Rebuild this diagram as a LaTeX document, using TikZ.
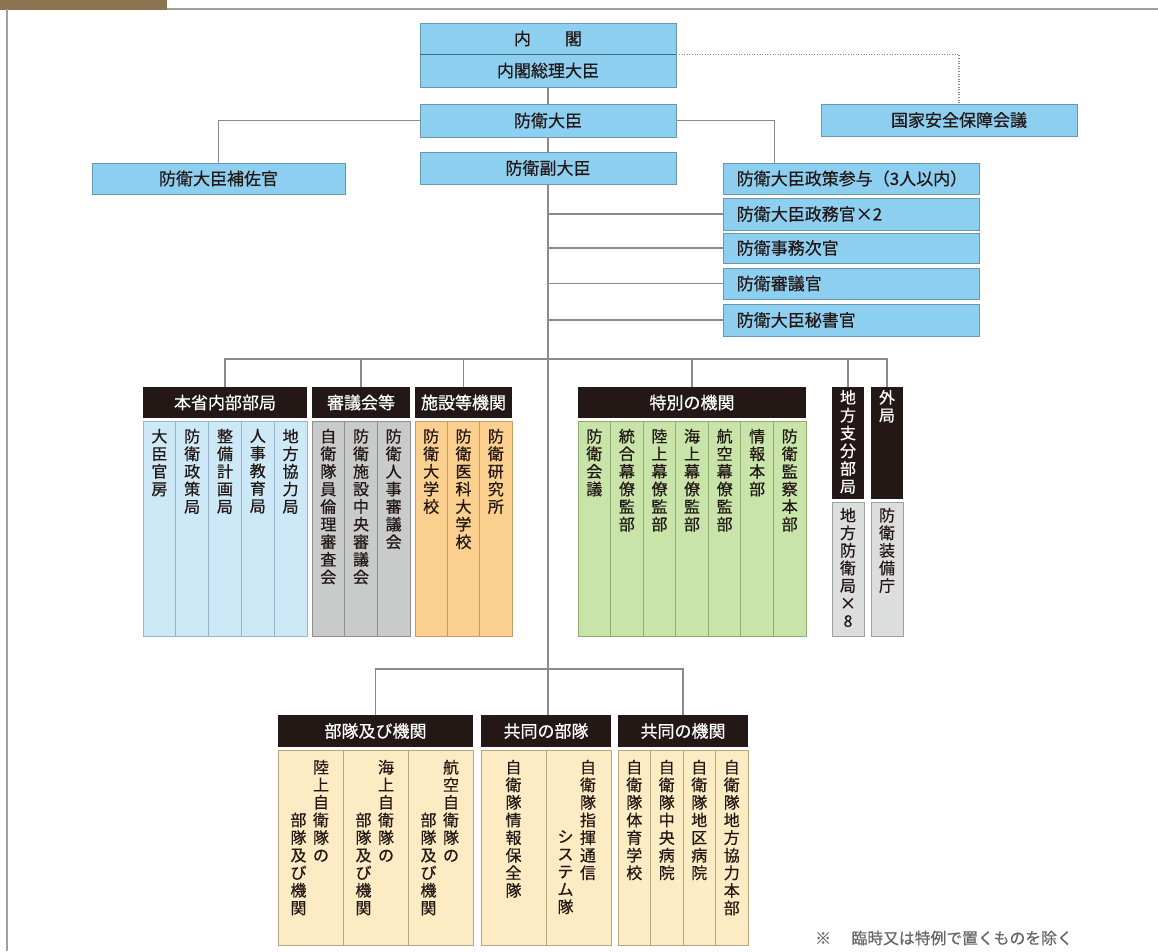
\documentclass[tikz,border=0pt]{standalone}
\usepackage{fontspec}
\setmainfont{Noto Sans CJK JP}[FakeBold=0.6]
\usetikzlibrary{calc}
\definecolor{topfill}{HTML}{8DCFF0}
\definecolor{topbd}{HTML}{6A97AE}
\definecolor{topdiv}{HTML}{3F6C82}
\definecolor{hdrfill}{HTML}{231815}
\definecolor{txt}{HTML}{231815}
\definecolor{cAf}{HTML}{CDE8F6}
\definecolor{cAd}{HTML}{94B6C8}
\definecolor{cBf}{HTML}{C9CACA}
\definecolor{cBd}{HTML}{8F8F8F}
\definecolor{cCf}{HTML}{FBD08F}
\definecolor{cCd}{HTML}{C49C62}
\definecolor{cDf}{HTML}{C8E4A9}
\definecolor{cDd}{HTML}{8FAB74}
\definecolor{cEf}{HTML}{DCDDDD}
\definecolor{cEd}{HTML}{A0A0A0}
\definecolor{cGf}{HTML}{FDEBC3}
\definecolor{cGd}{HTML}{B9A57E}
\definecolor{lncol}{HTML}{8A8A8A}
\definecolor{brownbar}{HTML}{8A7550}
\definecolor{bordercol}{HTML}{A0A0A0}
\definecolor{footc}{HTML}{666666}
\newcommand\mkbox[7]{%
  \pgfmathsetmacro\mbw{#5-#3}\pgfmathsetmacro\mbh{#6-#4}%
  \pgfmathsetmacro\mbx{(#3+#5)/2}\pgfmathsetmacro\mby{(#4+#6)/2}%
  \node[#2, minimum width=\mbw pt, minimum height=\mbh pt, inner sep=0pt] (#1) at (\mbx,\mby) {#7};}
\begin{document}
\begin{tikzpicture}[x=1pt,y=-1pt,
  topbox/.style={draw=topbd, fill=topfill, line width=0.9pt, text=txt, font=\fontsize{17}{20}\selectfont},
  hdr/.style={fill=hdrfill, text=white, font=\fontsize{17}{20}\selectfont},
  colA/.style={fill=cAf, draw=cAd, line width=0.8pt},
  colB/.style={fill=cBf, draw=cBd, line width=0.8pt},
  colC/.style={fill=cCf, draw=cCd, line width=0.8pt},
  colD/.style={fill=cDf, draw=cDd, line width=0.8pt},
  colE/.style={fill=cEf, draw=cEd, line width=0.8pt},
  colG/.style={fill=cGf, draw=cGd, line width=0.8pt},
  vt/.style={anchor=north, inner sep=0pt, align=center, text=txt, font=\fontsize{16}{17.6}\selectfont},
  vth/.style={vt, text=white, font=\fontsize{16}{17.8}\selectfont},
  lbl/.style={inner sep=0pt, anchor=west, text=txt, font=\fontsize{17}{20}\selectfont},
  conn/.style={draw=lncol, line width=1.2pt}]
\fill[white] (0,0) rectangle (1158,951);
\useasboundingbox (0,0) rectangle (1158,951);
% frame
\fill[brownbar] (0,0) rectangle (167,10);
\draw[bordercol, line width=2.4pt] (167,9) -- (1158,9);
\draw[bordercol, line width=2.4pt] (7,9) -- (7,951);

% top boxes
\mkbox{naikaku}{topbox}{420}{23}{676}{54}{内\hspace{2em}閣}
\mkbox{souri}{topbox}{420}{54}{676}{87}{内閣総理大臣}
\draw[topdiv, line width=1.6pt] (naikaku.south west) -- (naikaku.south east);
\mkbox{daijin}{topbox}{420}{104}{676}{137}{防衛大臣}
\mkbox{fuku}{topbox}{420}{152}{676}{184}{防衛副大臣}
\mkbox{kokka}{topbox}{821}{104}{1077}{136}{\hspace{20pt}国家安全保障会議}
\mkbox{hosakan}{topbox}{92}{163}{345}{194}{防衛大臣補佐官}
\mkbox{sanyo}{topbox}{723}{163}{979}{194}{}
\mkbox{seimu}{topbox}{723}{198}{979}{230}{}
\mkbox{jimu}{topbox}{723}{233}{979}{263}{}
\mkbox{shingi}{topbox}{723}{268}{979}{299}{}
\mkbox{hisho}{topbox}{723}{304}{979}{336}{}
\node[lbl] (tsanyo) at ($(sanyo.west)+(14,0)$) {防衛大臣政策参与（3人以内）};
\node[lbl] (tseimu) at ($(seimu.west)+(14,0)$) {防衛大臣政務官×2};
\node[lbl] (tjimu) at ($(jimu.west)+(14,0)$) {防衛事務次官};
\node[lbl] (tshingi) at ($(shingi.west)+(14,0)$) {防衛審議官};
\node[lbl] (thisho) at ($(hisho.west)+(14,0)$) {防衛大臣秘書官};

% headers
\mkbox{hA}{hdr}{143}{387}{307}{418}{本省内部部局}
\mkbox{hB}{hdr}{312}{387}{410}{418}{審議会等}
\mkbox{hC}{hdr}{415}{387}{512}{418}{施設等機関}
\mkbox{hD}{hdr}{578}{387}{806}{418}{特別の機関}
\mkbox{hE}{hdr}{832}{387}{864}{499}{}
\mkbox{hF}{hdr}{871}{387}{903}{499}{}
\node[vth] (thE) at ($(hE.north)+(0,3)$) {地\\方\\支\\分\\部\\局};
\node[vth] (thF) at ($(hF.north)+(0,3)$) {外\\局};
\mkbox{hG}{hdr}{278}{715}{473}{747}{部隊及び機関}
\mkbox{hH}{hdr}{481}{715}{611}{747}{共同の部隊}
\mkbox{hI}{hdr}{618}{715}{748}{747}{共同の機関}

% columns A
\foreach \t [count=\i from 0] in {{大\\臣\\官\\房},{防\\衛\\政\\策\\局},{整\\備\\計\\画\\局},{人\\事\\教\\育\\局},{地\\方\\協\\力\\局}}{
  \pgfmathsetmacro\xa{143+\i*32.8}\pgfmathsetmacro\xb{\xa+32.8}
  \mkbox{A\i}{colA}{\xa}{421}{\xb}{636}{}
  \node[vt] (tA\i) at ($(A\i.north)+(0,8)$) {\t};
}
% columns B
\foreach \t [count=\i from 0] in {{自\\衛\\隊\\員\\倫\\理\\審\\査\\会},{防\\衛\\施\\設\\中\\央\\審\\議\\会},{防\\衛\\人\\事\\審\\議\\会}}{
  \pgfmathsetmacro\xa{312+\i*32.667}\pgfmathsetmacro\xb{\xa+32.667}
  \mkbox{B\i}{colB}{\xa}{421}{\xb}{636}{}
  \node[vt] (tB\i) at ($(B\i.north)+(0,8)$) {\t};
}
% columns C
\foreach \t [count=\i from 0] in {{防\\衛\\大\\学\\校},{防\\衛\\医\\科\\大\\学\\校},{防\\衛\\研\\究\\所}}{
  \pgfmathsetmacro\xa{415+\i*32.333}\pgfmathsetmacro\xb{\xa+32.333}
  \mkbox{C\i}{colC}{\xa}{421}{\xb}{636}{}
  \node[vt] (tC\i) at ($(C\i.north)+(0,8)$) {\t};
}
% columns D
\foreach \t [count=\i from 0] in {{防\\衛\\会\\議},{統\\合\\幕\\僚\\監\\部},{陸\\上\\幕\\僚\\監\\部},{海\\上\\幕\\僚\\監\\部},{航\\空\\幕\\僚\\監\\部},{情\\報\\本\\部},{防\\衛\\監\\察\\本\\部}}{
  \pgfmathsetmacro\xa{578+\i*32.571}\pgfmathsetmacro\xb{\xa+32.571}
  \mkbox{D\i}{colD}{\xa}{421}{\xb}{636}{}
  \node[vt] (tD\i) at ($(D\i.north)+(0,8)$) {\t};
}
% E, F bodies
\mkbox{E0}{colE}{832}{502}{864}{636}{}
\mkbox{F0}{colE}{871}{502}{903}{636}{}
\node[vt] (tE0) at ($(E0.north)+(0,6)$) {地\\方\\防\\衛\\局\\×\\8};
\node[vt] (tF0) at ($(F0.north)+(0,6)$) {防\\衛\\装\\備\\庁};

% columns G
\foreach \r [count=\i from 0] in {{陸\\上\\自\\衛\\隊\\の},{海\\上\\自\\衛\\隊\\の},{航\\空\\自\\衛\\隊\\の}}{
  \pgfmathsetmacro\xa{278+\i*65}\pgfmathsetmacro\xb{\xa+65}
  \mkbox{G\i}{colG}{\xa}{750}{\xb}{945}{}
  \node[vt] (tG\i r) at ($(G\i.north)+(10.5,10)$) {\r};
  \node[vt] (tG\i l) at ($(G\i.north)+(-12,62.8)$) {部\\隊\\及\\び\\機\\関};
}
% columns H
\mkbox{H0}{colG}{481}{750}{546}{945}{}
\mkbox{H1}{colG}{546}{750}{611}{945}{}
\node[vt] (tH0) at ($(H0.north)+(0,10)$) {自\\衛\\隊\\情\\報\\保\\全\\隊};
\node[vt] (tH1r) at ($(H1.north)+(9.5,10)$) {自\\衛\\隊\\指\\揮\\通\\信};
\node[vt] (tH1l) at ($(H1.north)+(-13,80.4)$) {シ\\ス\\テ\\ム\\隊};
% columns I
\foreach \t [count=\i from 0] in {{自\\衛\\隊\\体\\育\\学\\校},{自\\衛\\隊\\中\\央\\病\\院},{自\\衛\\隊\\地\\区\\病\\院},{自\\衛\\隊\\地\\方\\協\\力\\本\\部}}{
  \pgfmathsetmacro\xa{618+\i*32.5}\pgfmathsetmacro\xb{\xa+32.5}
  \mkbox{I\i}{colG}{\xa}{750}{\xb}{945}{}
  \node[vt] (tI\i) at ($(I\i.north)+(0,10)$) {\t};
}

% connectors
\draw[conn] (souri.south) -- (daijin.north);
\draw[conn] (daijin.south) -- (fuku.north);
\draw[conn] (fuku.south) -- (fuku.south |- hH.north);
\draw[conn] (daijin.west) -| (hosakan.north);
\draw[conn] (daijin.east) -| ($(sanyo.north west)+(52,0)$);
\foreach \n in {seimu,jimu,shingi,hisho}{
  \draw[conn] (fuku.south |- \n.west) -- (\n.west);
}
\draw[lncol, line width=1.1pt, dash pattern=on 1pt off 1.6pt] (naikaku.south east) -| ($(kokka.north)+(10,0)$);
\coordinate (bar1) at (548,359);
\draw[conn] (hA.north) -- (hA.north |- bar1) -| (hF.north);
\foreach \n in {hB,hC,hD,hE}{
  \draw[conn] (\n.north) -- (\n.north |- bar1);
}
\coordinate (bar2) at (547,669);
\draw[conn] (hG.north) -- (hG.north |- bar2) -| (hI.north);

% footnote
\node[inner sep=0pt, anchor=west, text=footc, font=\fontsize{15.8}{18}\selectfont] (note) at (815,938) {※\hspace{1.3em}臨時又は特例で置くものを除く};
\end{tikzpicture}
\end{document}
